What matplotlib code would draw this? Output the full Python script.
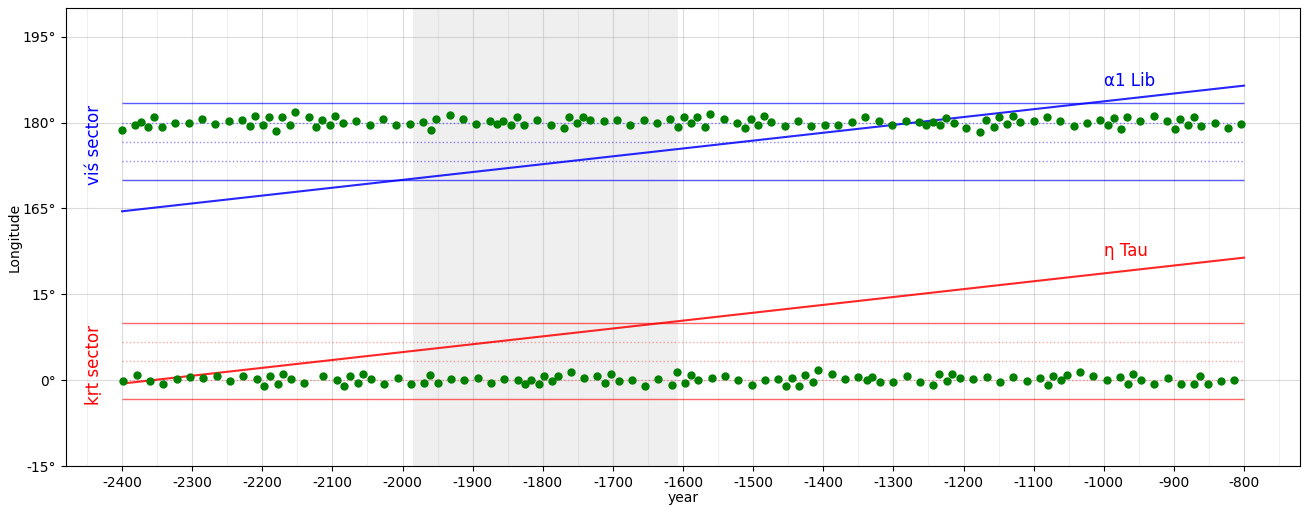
import matplotlib.pyplot as plt
from matplotlib.ticker import MultipleLocator

plt.rcParams['axes.unicode_minus'] = False

# upper band values are drawn shifted down by 135 deg
SHIFT = 135

# green dots, upper band (longitude in degrees)
years_top = [-2400, -2382, -2373, -2363, -2354, -2343, -2324, -2305, -2286, -2267,
             -2248, -2229, -2218, -2210, -2199, -2191, -2180, -2172, -2161, -2153,
             -2134, -2123, -2115, -2104, -2096, -2085, -2066, -2047, -2028, -2009,
             -1990, -1971, -1960, -1952, -1933, -1914, -1895, -1876,
             -1865, -1857, -1846, -1837, -1827, -1808, -1789, -1770, -1762, -1751,
             -1742, -1732, -1713, -1694, -1675, -1656, -1637, -1618, -1607, -1599,
             -1588, -1580, -1569, -1561, -1542, -1523, -1512, -1503, -1493, -1485,
             -1474, -1455, -1436, -1417, -1398, -1379, -1359, -1340,
             -1321, -1302, -1282, -1263, -1253, -1244, -1234, -1225, -1214, -1196,
             -1177, -1168, -1157, -1149, -1138, -1130, -1119, -1100, -1081, -1062,
             -1043, -1024, -1005, -994, -986, -975, -967, -948, -929, -910,
             -899, -891, -880, -872, -861, -842, -823, -804]
lon_top = [178.7, 179.5, 180.1, 179.3, 180.9, 179.3, 180.0, 180.0, 180.7, 179.8,
           180.2, 180.5, 179.4, 181.1, 179.5, 180.9, 178.5, 180.9, 179.5, 181.8,
           180.9, 179.2, 180.4, 179.5, 181.2, 179.9, 180.35, 179.5, 180.6, 179.5,
           179.8, 180.1, 178.7, 180.6, 181.4, 180.6, 179.8, 180.2,
           179.8, 180.3, 179.65, 180.9, 179.5, 180.5, 179.5, 179.0, 180.9, 179.9,
           181.0, 180.5, 180.2, 180.5, 179.5, 180.5, 179.9, 180.6, 179.3, 181.0,
           179.9, 180.9, 179.3, 181.45, 180.6, 179.9, 179.1, 180.6, 179.5, 181.1,
           180.1, 179.4, 180.35, 179.4, 179.6, 179.6, 180.1, 180.9,
           180.35, 179.5, 180.3, 180.1, 179.6, 180.1, 179.5, 180.8, 179.9, 179.1,
           178.4, 180.5, 179.25, 181.05, 179.8, 181.2, 180.1, 180.2, 181.05, 180.2,
           179.4, 179.9, 180.4, 179.5, 180.75, 178.95, 181.05, 180.2, 181.2, 180.3,
           178.8, 180.6, 179.5, 181.0, 179.4, 179.9, 179.1, 179.7]

# green dots, lower band (longitude in degrees)
years_bot = [-2398, -2379, -2360, -2341, -2322, -2303, -2284, -2265, -2246, -2227,
             -2208, -2197, -2189, -2178, -2170, -2159, -2140, -2113, -2094, -2083,
             -2075, -2064, -2056, -2045, -2026, -2007, -1988, -1969, -1961, -1950,
             -1931, -1912, -1893, -1874,
             -1855, -1836, -1825, -1817, -1806, -1798, -1787, -1779, -1760, -1741,
             -1722, -1711, -1703, -1692, -1673, -1654, -1635, -1616, -1608, -1597,
             -1589, -1578, -1559, -1540, -1521, -1502, -1483, -1464, -1453, -1445,
             -1434, -1426, -1415, -1407, -1388, -1369, -1350,
             -1338, -1330, -1319, -1300, -1281, -1262, -1243, -1235, -1224, -1216,
             -1205, -1186, -1167, -1148, -1129, -1110, -1091, -1080, -1072, -1061,
             -1053, -1034, -1015, -996, -977, -966, -958, -947, -928, -909,
             -890, -871, -863, -852, -833, -814]
lon_bot = [-0.17, 0.93, -0.17, -0.7, 0.17, 0.58, 0.35, 0.7, -0.23, 0.64,
           0.12, -1.1, 0.7, -0.64, 1.05, 0.17, -0.58, 0.81, 0.06, -1.05,
           0.64, -0.52, 1.16, 0.12, -0.64, 0.46, -0.64, -0.52, 0.87, -0.52,
           0.12, 0.0, 0.35, -0.58,
           0.17, -0.06, -0.7, 0.0, -0.7, 0.64, -0.12, 0.64, 1.34, 0.46,
           0.81, -0.52, 1.05, -0.23, 0.0, -1.05, 0.17, -0.87, 1.39, -0.46,
           0.87, -0.06, 0.29, 0.81, -0.06, -0.87, -0.06, 0.12, -1.1, 0.46,
           -1.05, 0.93, -0.35, 1.74, 1.05, 0.17, 0.52,
           -0.06, 0.52, -0.29, -0.29, 0.7, -0.29, -0.87, 0.99, -0.17, 1.05,
           0.29, 0.23, 0.58, -0.41, 0.52, -0.12, 0.46, -0.81, 0.81, -0.06,
           0.87, 1.45, 0.64, -0.06, 0.52, -0.75, 0.99, -0.06, -0.7, 0.29,
           -0.7, -0.64, 0.75, -0.7, -0.12, -0.06]

# star positions (precessing)
star_years = [-2400, -800]
alib_lon = [164.5, 186.45]
etau_lon = [-0.6, 21.4]

# nakshatra sectors: edges and pada lines
vis_edges = [170.0, 183.333]
vis_padas = [173.333, 176.667, 180.0]
krt_edges = [-3.333, 10.0]
krt_padas = [0.0, 3.333, 6.667]

span_years = [-1985, -1607]

yticks = [-15, 0, 15, 165, 180, 195]

fig = plt.figure(figsize=(13.04, 5.05), dpi=100)
ax = fig.add_axes([0.0506, 0.0772, 0.9464, 0.9068])

ax.axvspan(span_years[0], span_years[1], color='gray', alpha=0.12, lw=0, zorder=0)

x0, x1 = star_years
for v in vis_edges:
    ax.hlines(v - SHIFT, x0, x1, color='blue', alpha=0.65, lw=1)
for v in vis_padas:
    ax.hlines(v - SHIFT, x0, x1, color='blue', alpha=0.45, lw=1, linestyles=':')
for v in krt_edges:
    ax.hlines(v, x0, x1, color='red', alpha=0.6, lw=1)
for v in krt_padas:
    ax.hlines(v, x0, x1, color='red', alpha=0.35, lw=1, linestyles=':')

ax.plot(star_years, [v - SHIFT for v in alib_lon], color='blue', alpha=0.85, lw=1.5)
ax.plot(star_years, etau_lon, color='red', alpha=0.85, lw=1.5)

ax.plot(years_top, [v - SHIFT for v in lon_top], 'o', color='green', ms=5, zorder=3)
ax.plot(years_bot, lon_bot, 'o', color='green', ms=5, zorder=3)

ax.text(-1000, 52.3, 'α1 Lib', color='blue', fontsize=12, va='center', ha='left')
ax.text(-1000, 22.5, 'η Tau', color='red', fontsize=12, va='center', ha='left')
ax.text(-2440, sum(vis_edges) / 2 - SHIFT - 0.6, 'viś sector', color='blue', fontsize=12,
        rotation=90, va='center', ha='center')
ax.text(-2440, sum(krt_edges) / 2 - 0.6, 'kṛt sector', color='red', fontsize=12,
        rotation=90, va='center', ha='center')

ax.set_xlim(-2480, -720)
ax.set_ylim(-15, 65)
ax.xaxis.set_major_locator(MultipleLocator(100))
ax.xaxis.set_minor_locator(MultipleLocator(50))
ax.tick_params(axis='x', which='minor', length=0)
ax.set_yticks([t - SHIFT if t > 90 else t for t in yticks])
ax.set_yticklabels([f'{t}°' for t in yticks])
ax.grid(True, which='major', color='#b0b0b0', alpha=0.45, lw=0.8)
ax.grid(True, which='minor', axis='x', color='#b0b0b0', alpha=0.2, lw=0.8)
ax.set_axisbelow(True)
ax.set_xlabel('year', labelpad=1)
ax.set_ylabel('Longitude', labelpad=1)

plt.savefig('out.png')
